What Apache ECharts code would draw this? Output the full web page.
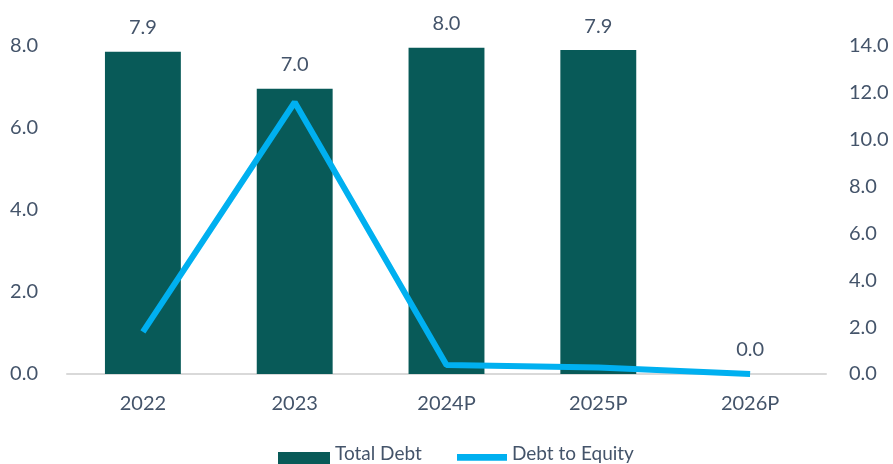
<!DOCTYPE html>
<html><head><meta charset="utf-8">
<script src="https://cdn.jsdelivr.net/npm/echarts@6/dist/echarts.min.js"></script>
<style>html,body{margin:0;padding:0;background:#fff}#c{width:893px;height:464px}</style>
</head><body><div id="c"></div>
<script>
var categories = ['2022', '2023', '2024P', '2025P', '2026P'];
var totalDebt = [7.86, 6.96, 7.96, 7.9, 0];
var debtToEquity = [1.8, 11.6, 0.38, 0.28, 0];
var leftTicks = {min: 0, max: 8, interval: 2};
var rightTicks = {min: 0, max: 14, interval: 2};

var txt = '#44546A';
var font = 'Lato';
var chart = echarts.init(document.getElementById('c'));
chart.setOption({
  animation: false,
  textStyle: {fontFamily: font},
  grid: {left: 67, right: 67, top: 46, bottom: 90, containLabel: false},
  legend: [{
    data: ['Total Debt'], left: 278, top: 440, padding: 0, itemGap: 5, itemWidth: 52, itemHeight: 27,
    icon: 'path://M0,0L52,0Z M0,12L52,12L52,27L0,27Z',
    textStyle: {color: txt, fontSize: 19, fontFamily: font}
  }, {
    data: ['Debt to Equity'], left: 457, top: 440, padding: 0, itemGap: 5, itemWidth: 50, itemHeight: 27,
    icon: 'path://M0,0L50,0Z M0,14L50,14L50,20.7L0,20.7Z M0,27L50,27Z',
    textStyle: {color: txt, fontSize: 19, fontFamily: font}
  }],
  xAxis: {
    type: 'category', data: categories,
    axisLine: {lineStyle: {color: '#D9D9D9', width: 2}},
    axisTick: {show: false},
    axisLabel: {color: txt, fontSize: 20, margin: 20, fontFamily: font}
  },
  yAxis: [{
    type: 'value', min: leftTicks.min, max: leftTicks.max, interval: leftTicks.interval,
    splitLine: {show: false}, axisLine: {show: false}, axisTick: {show: false},
    axisLabel: {color: txt, fontSize: 20, margin: 29, fontFamily: font, formatter: function(v){return v.toFixed(1);}}
  }, {
    type: 'value', min: rightTicks.min, max: rightTicks.max, interval: rightTicks.interval,
    splitLine: {show: false}, axisLine: {show: false}, axisTick: {show: false},
    axisLabel: {color: txt, fontSize: 20, margin: 23, fontFamily: font, formatter: function(v){return v.toFixed(1);}}
  }],
  series: [{
    name: 'Total Debt', type: 'bar', data: totalDebt, barWidth: '50%',
    itemStyle: {color: '#085A58'},
    label: {show: true, position: 'top', distance: 14, color: txt, fontSize: 20, fontFamily: font,
      formatter: function(p){return p.value.toFixed(1);}}
  }, {
    name: 'Debt to Equity', type: 'line', yAxisIndex: 1, data: debtToEquity,
    symbol: 'none', lineStyle: {color: '#00B0F0', width: 6}, itemStyle: {color: '#00B0F0'}
  }]
});
</script></body></html>
